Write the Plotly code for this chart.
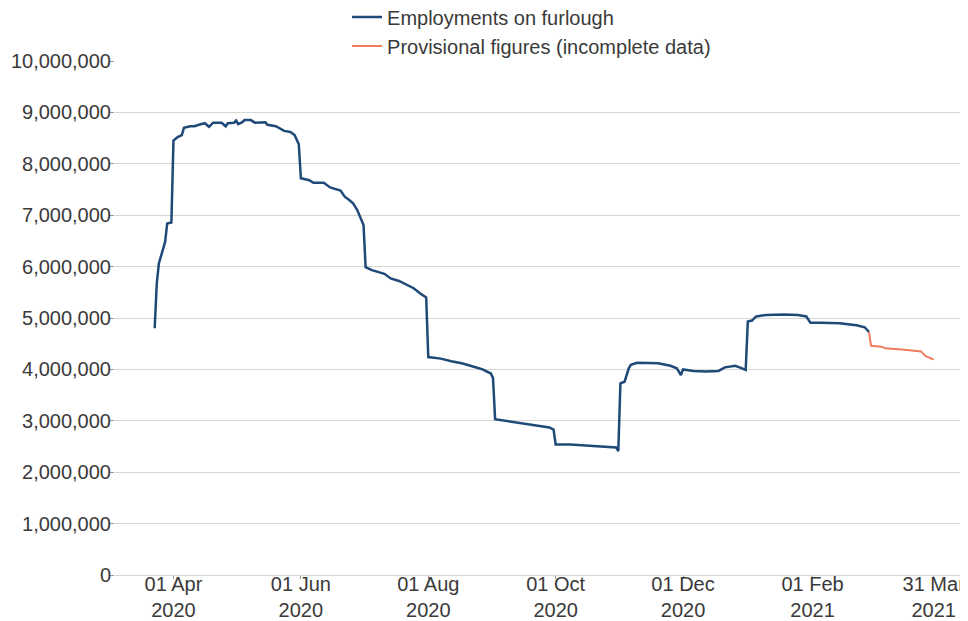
import plotly.graph_objects as go
import pandas as pd

# furlough counts, millions of employments
furlough_dates = [
    "2020-03-23", "2020-03-24", "2020-03-25", "2020-03-27", "2020-03-28", "2020-03-29", "2020-03-31",
    "2020-04-01", "2020-04-03", "2020-04-05", "2020-04-06", "2020-04-09", "2020-04-11", "2020-04-14",
    "2020-04-16", "2020-04-18", "2020-04-20", "2020-04-24", "2020-04-26", "2020-04-27", "2020-04-30",
    "2020-05-01", "2020-05-02", "2020-05-04", "2020-05-05", "2020-05-08", "2020-05-10", "2020-05-15",
    "2020-05-16", "2020-05-20", "2020-05-22", "2020-05-24", "2020-05-27", "2020-05-29", "2020-05-31",
    "2020-06-01", "2020-06-05", "2020-06-07", "2020-06-12", "2020-06-15", "2020-06-20", "2020-06-22",
    "2020-06-24", "2020-06-26", "2020-06-28", "2020-06-30", "2020-07-01", "2020-07-02", "2020-07-05",
    "2020-07-11", "2020-07-14", "2020-07-18", "2020-07-21", "2020-07-25", "2020-07-28", "2020-07-31",
    "2020-08-01", "2020-08-07", "2020-08-12", "2020-08-17", "2020-08-22", "2020-08-27", "2020-08-31",
    "2020-09-01", "2020-09-02", "2020-09-07", "2020-09-13", "2020-09-18", "2020-09-24", "2020-09-28",
    "2020-09-30", "2020-10-01", "2020-10-08", "2020-10-16", "2020-10-24", "2020-10-30", "2020-10-31",
    "2020-11-01", "2020-11-03", "2020-11-05", "2020-11-06", "2020-11-09", "2020-11-19", "2020-11-25",
    "2020-11-28", "2020-11-30", "2020-12-01", "2020-12-06", "2020-12-12", "2020-12-18", "2020-12-21",
    "2020-12-26", "2020-12-28", "2020-12-31", "2021-01-01", "2021-01-03", "2021-01-05", "2021-01-10",
    "2021-01-18", "2021-01-25", "2021-01-29", "2021-01-31", "2021-02-05", "2021-02-14", "2021-02-22",
    "2021-02-26", "2021-02-28",
]
furlough_m = [
    4.80, 5.67, 6.06, 6.32, 6.48, 6.84, 6.86,
    8.45, 8.52, 8.56, 8.70, 8.73, 8.73, 8.77,
    8.79, 8.72, 8.80, 8.80, 8.73, 8.79, 8.80,
    8.84, 8.77, 8.81, 8.85, 8.85, 8.80, 8.81,
    8.76, 8.73, 8.69, 8.64, 8.62, 8.56, 8.38,
    7.72, 7.68, 7.63, 7.63, 7.54, 7.48, 7.36,
    7.30, 7.23, 7.10, 6.91, 6.81, 5.99, 5.93,
    5.86, 5.77, 5.72, 5.66, 5.58, 5.48, 5.40,
    4.24, 4.21, 4.16, 4.12, 4.06, 4.00, 3.92,
    3.83, 3.03, 3.00, 2.97, 2.93, 2.90, 2.87,
    2.83, 2.54, 2.54, 2.52, 2.50, 2.48, 2.41,
    3.73, 3.76, 4.02, 4.09, 4.13, 4.12, 4.07,
    4.02, 3.89, 4.00, 3.97, 3.96, 3.97, 4.04,
    4.07, 4.04, 3.99, 4.93, 4.95, 5.03, 5.06,
    5.07, 5.06, 5.03, 4.91, 4.91, 4.90, 4.86,
    4.82, 4.73,
]

provisional_dates = ["2021-02-28", "2021-03-01", "2021-03-06", "2021-03-08", "2021-03-17",
                     "2021-03-25", "2021-03-27", "2021-03-30", "2021-03-31"]
provisional_m = [4.73, 4.46, 4.44, 4.41, 4.38, 4.35, 4.26, 4.20, 4.19]

tick_dates = ["2020-04-01", "2020-06-01", "2020-08-01", "2020-10-01",
              "2020-12-01", "2021-02-01", "2021-03-31"]
tick_text = ["01 Apr<br>2020", "01 Jun<br>2020", "01 Aug<br>2020", "01 Oct<br>2020",
             "01 Dec<br>2020", "01 Feb<br>2021", "31 Mar<br>2021"]

df = pd.DataFrame({"date": pd.to_datetime(furlough_dates), "value": [v * 1e6 for v in furlough_m]})
prov = pd.DataFrame({"date": pd.to_datetime(provisional_dates), "value": [v * 1e6 for v in provisional_m]})

FONT = "Liberation Sans, Arial, sans-serif"
TEXT = "#3a3a3a"

fig = go.Figure()
fig.add_trace(go.Scatter(x=df["date"], y=df["value"], mode="lines",
                         line=dict(color="#1f4a78", width=2.5),
                         name="Employments on furlough"))
fig.add_trace(go.Scatter(x=prov["date"], y=prov["value"], mode="lines",
                         line=dict(color="#f07b5f", width=2),
                         name="Provisional figures (incomplete data)"))

# page body has an 8px margin, so the figure is sized to end at the window edge
fig.update_layout(
    width=960, height=613,
    margin=dict(l=107, r=3, t=53, b=46, autoexpand=False),
    plot_bgcolor="white", paper_bgcolor="white",
    font=dict(family=FONT, size=20, color=TEXT),
    showlegend=True,
    legend=dict(orientation="v", x=0.273, xanchor="left", y=1.1235, yanchor="top",
                font=dict(size=20, color=TEXT), bgcolor="rgba(0,0,0,0)",
                tracegroupgap=0),
)
fig.update_xaxes(
    range=["2020-03-04", "2021-04-15"],
    tickvals=pd.to_datetime(tick_dates), ticktext=tick_text, tickangle=0,
    showgrid=False, showline=False, zeroline=False,
    ticks="outside", ticklen=3, tickcolor="#9a9a9a", ticklabelstandoff=-12,
    tickfont=dict(size=20, color=TEXT),
)
fig.update_yaxes(
    range=[0, 10_000_000], dtick=1_000_000, tickformat=",d",
    showgrid=True, gridcolor="#d6d6d6", gridwidth=1,
    zeroline=True, zerolinecolor="#d6d6d6", zerolinewidth=1,
    showline=False, ticks="outside", ticklen=4, tickcolor="#9a9a9a", ticklabelstandoff=-5,
    tickfont=dict(size=20, color=TEXT),
)

fig.write_html("out.html")
